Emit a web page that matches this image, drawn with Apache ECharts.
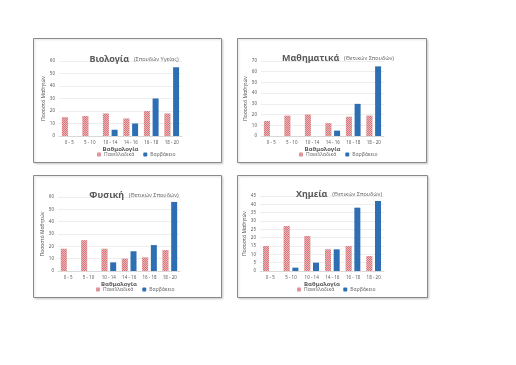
<!DOCTYPE html>
<html><head><meta charset="utf-8">
<script src="https://cdn.jsdelivr.net/npm/echarts@6/dist/echarts.min.js"></script>
<style>html,body{margin:0;padding:0;background:#fff}#c{width:516px;height:365px}</style>
</head><body><div id="c"></div>
<script>
const categories = ['0 - 5', '5 - 10', '10 - 14', '14 - 16', '16 - 18', '18 - 20'];
const seriesNames = ['Πανελλαδικά', 'Βαρβάκειο'];
const titles = ['Βιολογία', 'Μαθηματικά', 'Φυσική', 'Χημεία'];
const subtitles = ['(Σπουδών Υγείας)', '(Θετικών Σπουδών)', '(Θετικών Σπουδών)', '(Θετικών Σπουδών)'];
const yMax = [60, 70, 60, 45];
const yStep = [10, 10, 10, 5];
const biologyPan = [15, 16, 18, 14, 20, 18];
const biologyVarv = [0, 0, 5, 10, 30, 55];
const mathPan = [14, 19, 20, 12, 18, 19];
const mathVarv = [0, 0, 0, 5, 30, 65];
const physicsPan = [18, 25, 18, 10, 11, 17];
const physicsVarv = [0, 0, 7, 16, 21, 56];
const chemPan = [15, 27, 21, 13, 15, 9];
const chemVarv = [0, 2, 5, 13, 38, 42];
const panData = [biologyPan, mathPan, physicsPan, chemPan];
const varvData = [biologyVarv, mathVarv, physicsVarv, chemVarv];

// layout
const boxes = [[33, 38, 188, 124], [237, 38, 189, 124], [33, 175, 188, 122], [237, 175, 190, 122]];
const grids = [
  {left: 59, top: 61, width: 123, height: 75},
  {left: 261, top: 61, width: 123, height: 75},
  {left: 58, top: 197, width: 122, height: 74},
  {left: 260, top: 196, width: 124, height: 75}
];
const titlePos = [[129, 45], [333, 44], [129, 181], [334, 180]];
const legendPos = [[97, 152], [299, 152], [96, 287], [297, 287]];
const txt = '#595959';
const FONT = 'Noto Sans';

const option = {
  animation: false,
  textStyle: {fontFamily: FONT},
  graphic: boxes.map(b => ({type: 'rect', shape: {x: b[0] + 0.5, y: b[1] + 0.5, width: b[2], height: b[3]},
    style: {fill: '#fff', stroke: '#8a8a8a', lineWidth: 1, shadowColor: 'rgba(0,0,0,0.15)', shadowBlur: 2, shadowOffsetX: 1, shadowOffsetY: 1}, z: -10})),
  title: titles.map((t, i) => ({
    text: '{a|' + t + '} {b|' + subtitles[i] + '}',
    left: titlePos[i][0], top: titlePos[i][1], textAlign: 'center',
    textStyle: {fontWeight: 'normal', rich: {a: {fontSize: 9, fontWeight: 'bold', color: txt, fontFamily: FONT}, b: {fontSize: 5.5, fontWeight: 'normal', color: '#6b6b6b', fontFamily: FONT}}}
  })),
  legend: legendPos.map(p => ({
    data: seriesNames, left: p[0], top: p[1], itemWidth: 4, itemHeight: 4, itemGap: 9,
    textStyle: {fontSize: 5, color: '#6b6b6b', padding: [0, 0, 0, -2]}, padding: 0
  })),
  grid: grids,
  xAxis: grids.map((g, i) => ({
    type: 'category', gridIndex: i, data: categories,
    name: 'Βαθμολογία', nameLocation: 'middle', nameGap: 8,
    nameTextStyle: {fontSize: 6, fontWeight: 'bold', color: txt},
    axisLine: {lineStyle: {color: '#d9d9d9'}}, axisTick: {show: false},
    axisLabel: {fontSize: 4.5, color: txt, margin: 4, interval: 0}
  })),
  yAxis: grids.map((g, i) => ({
    type: 'value', gridIndex: i, min: 0, max: yMax[i], interval: yStep[i],
    name: 'Ποσοστό Μαθητών', nameLocation: 'middle', nameGap: 11,
    nameTextStyle: {fontSize: 5, color: txt},
    axisLine: {show: false}, axisTick: {show: false},
    axisLabel: {fontSize: 4.5, color: txt, margin: 4},
    splitLine: {lineStyle: {color: '#e3e3e3', width: 0.6}}
  })),
  series: []
};
for (let i = 0; i < 4; i++) {
  option.series.push({
    name: seriesNames[0], type: 'bar', xAxisIndex: i, yAxisIndex: i, data: panData[i],
    barWidth: 6, barGap: '45%',
    itemStyle: {color: '#d9777c', decal: {symbol: 'rect', symbolSize: 1, dashArrayX: [[1, 1], [0, 1, 1, 0]], dashArrayY: [1, 0], color: 'rgba(255,255,255,0.45)'}}
  });
  option.series.push({
    name: seriesNames[1], type: 'bar', xAxisIndex: i, yAxisIndex: i, data: varvData[i],
    barWidth: 6, barGap: '45%', itemStyle: {color: '#2e6fb3'}
  });
}
const chart = echarts.init(document.getElementById('c'), null, {renderer: 'canvas'});
chart.setOption(option);
</script></body></html>
